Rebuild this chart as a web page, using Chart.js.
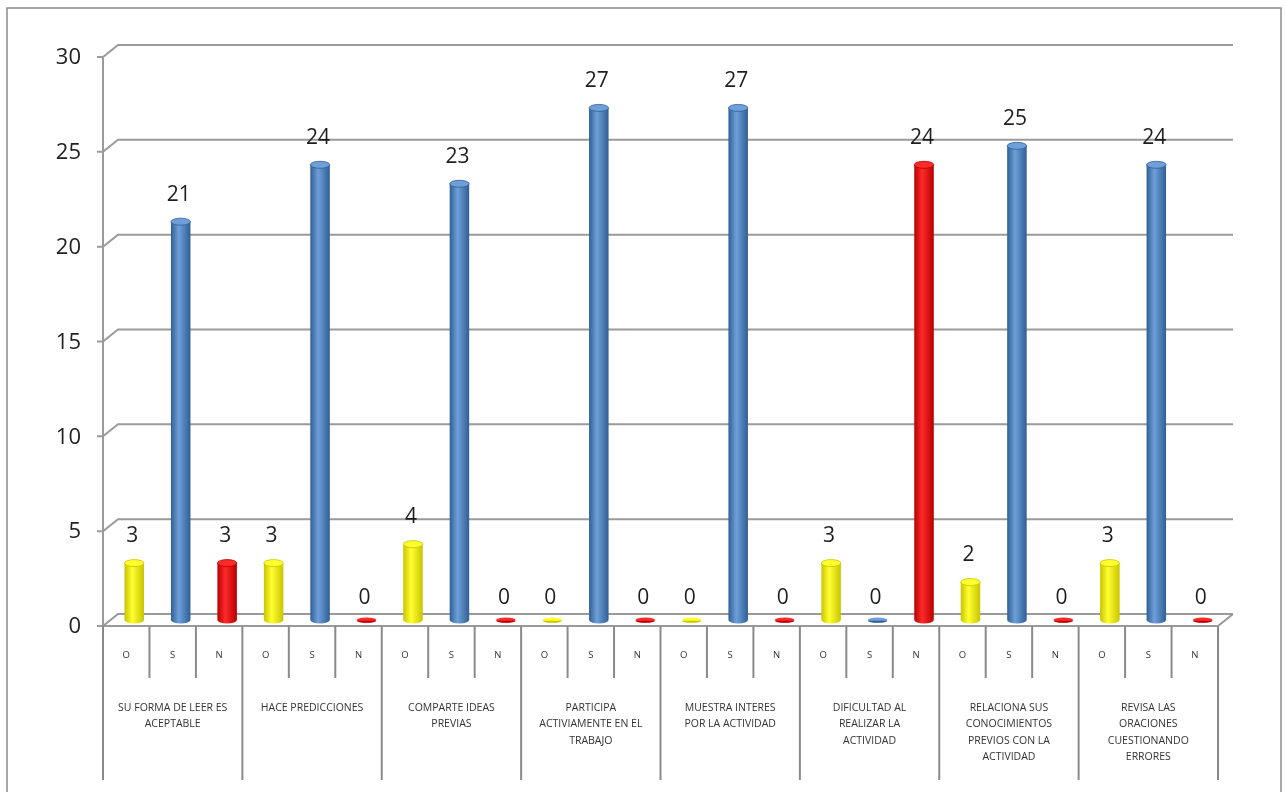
<!DOCTYPE html>
<html>
<head>
<meta charset="utf-8">
<script src="https://cdn.jsdelivr.net/npm/chart.js@4.4.1/dist/chart.umd.min.js"></script>
<style>
  html, body { margin: 0; padding: 0; background: #fff; }
  #wrap { width: 1285px; height: 792px; position: relative; }
</style>
</head>
<body>
<div id="wrap"><canvas id="grafico"></canvas></div>
<script>
// Datos del gráfico
const grupos = [
  ["SU FORMA DE LEER ES", "ACEPTABLE"],
  ["HACE PREDICCIONES"],
  ["COMPARTE IDEAS", "PREVIAS"],
  ["PARTICIPA", "ACTIVIAMENTE EN EL", "TRABAJO"],
  ["MUESTRA INTERES", "POR LA ACTIVIDAD"],
  ["DIFICULTAD AL", "REALIZAR LA", "ACTIVIDAD"],
  ["RELACIONA SUS", "CONOCIMIENTOS", "PREVIOS CON LA", "ACTIVIDAD"],
  ["REVISA LAS", "ORACIONES", "CUESTIONANDO", "ERRORES"]
];
const subcategorias = ["O", "S", "N"];
const valoresO = [3, 3, 4, 0, 0, 3, 2, 3];
const valoresS = [21, 24, 23, 27, 27, 0, 25, 24];
const valoresN = [3, 0, 0, 0, 0, 24, 0, 0];
const ticksY = [0, 5, 10, 15, 20, 25, 30];

// colores por subcategoria: [borde oscuro, centro claro]
const colores = {
  O: ["#c9c400", "#ffff30"],
  S: ["#2f5f96", "#6f9fd8"],
  N: ["#b80000", "#ff2a2a"]
};

// 24 categorias intercaladas O,S,N
const etiquetas = [];
const valores = [];
grupos.forEach((g, i) => {
  subcategorias.forEach(s => etiquetas.push(s));
  valores.push(valoresO[i], valoresS[i], valoresN[i]);
});

const DX = 15, DY = -12;      // profundidad 3D
const gris = "#9a9a9a";

const plugin3d = {
  id: "plugin3d",
  beforeDatasetsDraw(chart) {
    const ctx = chart.ctx;
    const a = chart.chartArea;
    const y = chart.scales.y;
    ctx.save();
    ctx.strokeStyle = gris;
    ctx.lineWidth = 2;
    // lineas de cuadricula en la pared de fondo
    ticksY.forEach(v => {
      const py = y.getPixelForValue(v);
      ctx.beginPath();
      ctx.moveTo(a.left - 6, py);
      ctx.lineTo(a.left, py);
      ctx.lineTo(a.left + DX, py + DY);
      ctx.lineTo(a.right + DX, py + DY);
      ctx.stroke();
    });
    // eje vertical
    ctx.beginPath();
    ctx.moveTo(a.left, a.top);
    ctx.lineTo(a.left, a.bottom);
    ctx.stroke();
    // piso
    ctx.beginPath();
    ctx.moveTo(a.left, a.bottom);
    ctx.lineTo(a.right, a.bottom);
    ctx.lineTo(a.right + DX, a.bottom + DY);
    ctx.stroke();
    // etiquetas eje Y
    ctx.fillStyle = "#222";
    ctx.font = "22px 'Open Sans', sans-serif";
    ctx.textAlign = "right";
    ctx.textBaseline = "middle";
    ticksY.forEach(v => {
      ctx.fillText(String(v), 81, y.getPixelForValue(v) + 1);
    });
    ctx.restore();
  },
  afterDatasetsDraw(chart) {
    const ctx = chart.ctx;
    const meta = chart.getDatasetMeta(0);
    const ox = Math.round(DX / 2), oy = Math.round(DY / 2);
    ctx.save();
    meta.data.forEach((el, i) => {
      const p = el.getProps(["x", "y", "base", "width"], true);
      const sub = etiquetas[i];
      const [oscuro, claro] = colores[sub];
      const cx = p.x + ox;
      const top = p.y + oy;
      const base = p.base + oy;
      const r = p.width / 2;
      const ry = 3.5;
      if (valores[i] === 0) {
        ctx.fillStyle = claro;
        ctx.beginPath();
        ctx.ellipse(cx, base, r, 2.5, 0, 0, Math.PI * 2);
        ctx.fill();
        ctx.fillStyle = oscuro;
        ctx.beginPath();
        ctx.ellipse(cx, base + 0.8, r, 2, 0, 0, Math.PI);
        ctx.fill();
      } else {
        const grad = ctx.createLinearGradient(cx - r, 0, cx + r, 0);
        grad.addColorStop(0, oscuro);
        grad.addColorStop(0.4, claro);
        grad.addColorStop(1, oscuro);
        ctx.fillStyle = grad;
        ctx.beginPath();
        ctx.moveTo(cx - r, top);
        ctx.lineTo(cx - r, base);
        ctx.ellipse(cx, base, r, ry, 0, Math.PI, 0, true);
        ctx.lineTo(cx + r, top);
        ctx.closePath();
        ctx.fill();
        ctx.fillStyle = claro;
        ctx.beginPath();
        ctx.ellipse(cx, top, r, ry, 0, 0, Math.PI * 2);
        ctx.fill();
        ctx.strokeStyle = oscuro;
        ctx.lineWidth = 0.8;
        ctx.stroke();
      }
      // etiqueta de valor
      ctx.fillStyle = "#1e1e1e";
      ctx.font = "21px 'Open Sans', sans-serif";
      ctx.textAlign = "center";
      ctx.textBaseline = "middle";
      ctx.fillText(String(valores[i]), cx - 2, top - (valores[i] === 0 ? 22 : 27));
    });
    ctx.restore();
  },
  afterDraw(chart) {
    const ctx = chart.ctx;
    const a = chart.chartArea;
    const n = etiquetas.length;
    const w = (a.right - a.left) / n;
    ctx.save();
    ctx.strokeStyle = "#8a8a8a";
    ctx.lineWidth = 2;
    for (let i = 0; i <= n; i++) {
      const x = a.left + i * w;
      ctx.beginPath();
      ctx.moveTo(x, a.bottom);
      ctx.lineTo(x, i % 3 === 0 ? 780 : 678);
      ctx.stroke();
    }
    ctx.fillStyle = "#333";
    ctx.textAlign = "center";
    ctx.textBaseline = "middle";
    ctx.font = "9.5px 'Open Sans', sans-serif";
    etiquetas.forEach((t, i) => {
      ctx.fillText(t, a.left + (i + 0.5) * w, 655);
    });
    ctx.font = "10.5px 'Open Sans', sans-serif";
    grupos.forEach((lineas, g) => {
      const cx = a.left + (g * 3 + 1.5) * w;
      lineas.forEach((l, k) => {
        ctx.fillText(l, cx, 708 + k * 16.3);
      });
    });
    // marco exterior
    ctx.strokeStyle = "#8c8c8c";
    ctx.lineWidth = 1.5;
    ctx.strokeRect(7, 8, 1274, 800);
    ctx.restore();
  }
};

new Chart(document.getElementById("grafico"), {
  type: "bar",
  data: {
    labels: etiquetas,
    datasets: [{
      data: valores,
      backgroundColor: "rgba(0,0,0,0)",
      borderWidth: 0,
      categoryPercentage: 1,
      barPercentage: 0.42
    }]
  },
  options: {
    responsive: true,
    maintainAspectRatio: false,
    animation: false,
    layout: { padding: { left: 103, right: 67, top: 57, bottom: 166 } },
    plugins: { legend: { display: false }, tooltip: { enabled: false } },
    scales: {
      x: { display: false },
      y: { display: false, min: 0, max: 30, ticks: { stepSize: 5 } }
    }
  },
  plugins: [plugin3d]
});
</script>
</body>
</html>
